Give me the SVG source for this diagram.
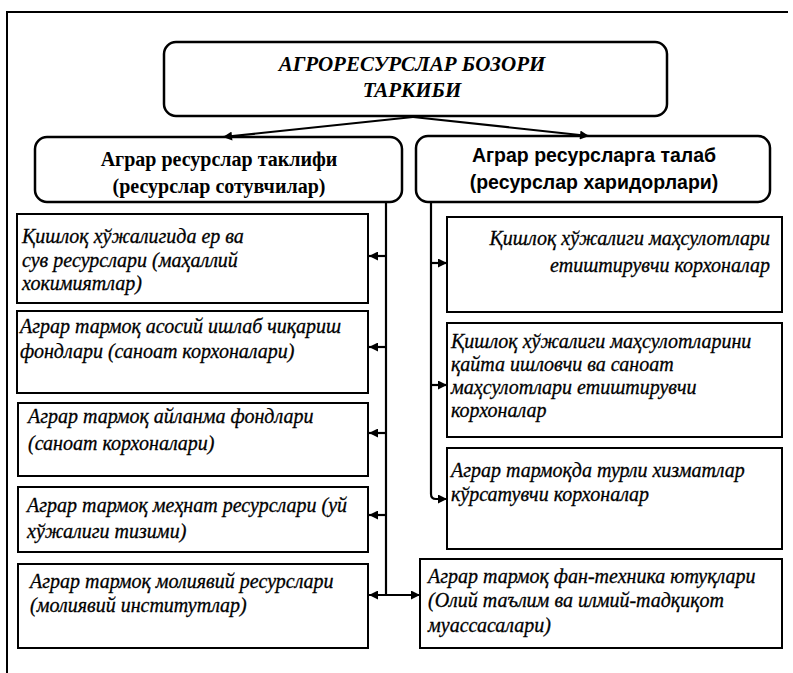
<svg xmlns="http://www.w3.org/2000/svg" width="793" height="673" viewBox="0 0 793 673">
<defs>
<marker id="ah" viewBox="0 0 10 10" refX="10" refY="5" markerWidth="11" markerHeight="9" orient="auto-start-reverse" markerUnits="userSpaceOnUse"><path d="M0,0 L10,5 L0,10 z" fill="#000"/></marker>
<style>
.frame{fill:none;stroke:#000;stroke-width:2}
.rbox{fill:#fff;stroke:#000;stroke-width:2.5}
.box{fill:#fff;stroke:#000;stroke-width:2}
.ln{fill:none;stroke:#000;stroke-width:2.2}
.title{font-family:"Liberation Serif",serif;font-weight:bold;font-style:italic;font-size:21px;text-anchor:middle}
.hs{font-family:"Liberation Serif",serif;font-weight:bold;font-size:20px;text-anchor:middle}
.hd{font-family:"Liberation Sans",sans-serif;font-weight:bold;font-size:19.5px;text-anchor:middle}
.it{font-family:"Liberation Serif",serif;font-style:italic;font-size:20px;stroke:#000;stroke-width:0.3}
</style>
</defs>
<rect width="793" height="673" fill="#fff"/>
<path class="frame" d="M7,673 V12 H788"/>
<g id="root">
<rect class="rbox" x="164" y="42" width="503" height="74" rx="12"/>
<text class="title" x="412" y="71">АГРОРЕСУРСЛАР БОЗОРИ</text>
<text class="title" x="412" y="97">ТАРКИБИ</text>
</g>
<g id="supply">
<rect class="rbox" x="35" y="137" width="367" height="65" rx="12"/>
<text class="hs" x="219" y="166">Аграр ресурслар таклифи</text>
<text class="hs" x="219" y="193">(ресурслар сотувчилар)</text>
</g>
<g id="demand">
<rect class="rbox" x="416" y="136" width="354" height="66" rx="12"/>
<text class="hd" x="594" y="162">Аграр ресурсларга талаб</text>
<text class="hd" x="594" y="189">(ресурслар харидорлари)</text>
</g>
<g id="s1">
<rect class="box" x="17" y="214" width="351" height="89"/>
<text class="it" x="22" y="243">Қишлоқ хўжалигида ер ва</text>
<text class="it" x="22" y="267">сув ресурслари (маҳаллий</text>
<text class="it" x="22" y="290">хокимиятлар)</text>
</g>
<g id="s2">
<rect class="box" x="17" y="311" width="351" height="82"/>
<text class="it" x="20" y="333">Аграр тармоқ асосий ишлаб чиқариш</text>
<text class="it" x="20" y="358">фондлари (саноат корхоналари)</text>
</g>
<g id="s3">
<rect class="box" x="18" y="403" width="350" height="73"/>
<text class="it" x="28" y="423">Аграр тармоқ айланма фондлари</text>
<text class="it" x="28" y="450">(саноат корхоналари)</text>
</g>
<g id="s4">
<rect class="box" x="18" y="487" width="350" height="65"/>
<text class="it" x="27" y="512">Аграр тармоқ меҳнат ресурслари (уй</text>
<text class="it" x="27" y="538">хўжалиги тизими)</text>
</g>
<g id="s5">
<rect class="box" x="18" y="564" width="350" height="84"/>
<text class="it" x="30" y="588">Аграр тармоқ молиявий ресурслари</text>
<text class="it" x="30" y="612">(молиявий институтлар)</text>
</g>
<g id="d1">
<rect class="box" x="447" y="217" width="335" height="95"/>
<text class="it" x="770" y="245" text-anchor="end">Қишлоқ хўжалиги маҳсулотлари</text>
<text class="it" x="770" y="272" text-anchor="end">етиштирувчи корхоналар</text>
</g>
<g id="d2">
<rect class="box" x="447" y="323" width="335" height="114"/>
<text class="it" x="451" y="348">Қишлоқ хўжалиги маҳсулотларини</text>
<text class="it" x="451" y="371">қайта ишловчи ва саноат</text>
<text class="it" x="451" y="394">маҳсулотлари етиштирувчи</text>
<text class="it" x="451" y="417">корхоналар</text>
</g>
<g id="d3">
<rect class="box" x="447" y="448" width="335" height="101"/>
<text class="it" x="451" y="477">Аграр тармоқда турли хизматлар</text>
<text class="it" x="451" y="501">кўрсатувчи корхоналар</text>
</g>
<g id="d4">
<rect class="box" x="420" y="559" width="362" height="89"/>
<text class="it" x="428" y="583">Аграр тармоқ фан-техника ютуқлари</text>
<text class="it" x="428" y="607">(Олий таълим ва илмий-тадқиқот</text>
<text class="it" x="428" y="632">муассасалари)</text>
</g>
<g id="connectors">
<path class="ln" d="M413,117 L223,137" marker-end="url(#ah)"/>
<path class="ln" d="M413,117 L589,136" marker-end="url(#ah)"/>
<path class="ln" d="M386,202 V595"/>
<path class="ln" d="M386,256 H369" marker-end="url(#ah)"/>
<path class="ln" d="M386,347 H369" marker-end="url(#ah)"/>
<path class="ln" d="M386,433 H369" marker-end="url(#ah)"/>
<path class="ln" d="M386,515 H369" marker-end="url(#ah)"/>
<path class="ln" d="M369,595 H420" marker-start="url(#ah)" marker-end="url(#ah)"/>
<path class="ln" d="M431,202 V494 Q431,499 436,499 H447" marker-end="url(#ah)"/>
<path class="ln" d="M431,263 H447" marker-end="url(#ah)"/>
<path class="ln" d="M431,385 H447" marker-end="url(#ah)"/>
</g>
</svg>
